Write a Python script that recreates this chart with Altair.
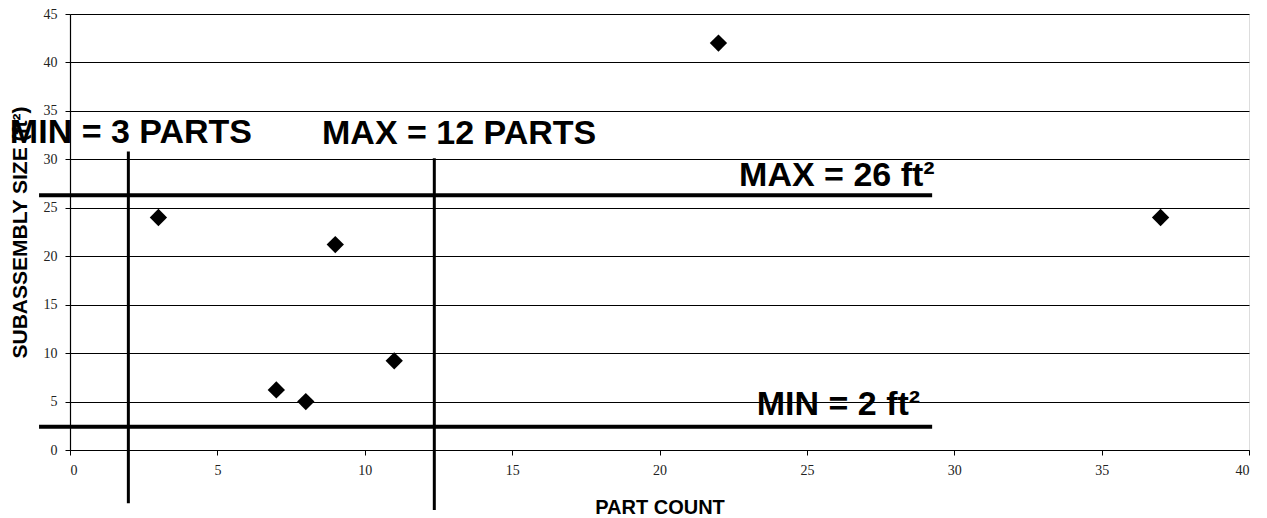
import altair as alt
import pandas as pd

# scatter data
part_count = [3, 7, 8, 9, 11, 22, 37]
subassembly_size = [24, 6.2, 5, 21.2, 9.2, 42, 24]

# threshold lines (as drawn)
v_x = [1.98, 12.36]
v_y1 = [-5.5, -6.2]
v_y2 = [30.8, 30.1]
h_y = [26.3, 2.4]
h_x1 = [-1.05, -1.05]
h_x2 = [29.25, 29.25]

# annotation labels
label_text = ["MIN = 3 PARTS", "MAX = 12 PARTS", "MAX = 26 ft²", "MIN = 2 ft²"]
label_x = [-2.04, 8.55, 22.7, 23.3]
label_y = [31.7, 31.6, 27.25, 3.6]

pts = pd.DataFrame({"x": part_count, "y": subassembly_size})
vlines = pd.DataFrame({"x": v_x, "y": v_y1, "y2": v_y2})
hlines = pd.DataFrame({"y": h_y, "x": h_x1, "x2": h_x2})
labels = pd.DataFrame({"t": label_text, "x": label_x, "y": label_y})

xs = alt.Scale(domain=[0, 40], nice=False, zero=False)
ys = alt.Scale(domain=[0, 45], nice=False, zero=False)

xax = alt.Axis(values=list(range(0, 41, 5)), title="PART COUNT", grid=False,
               titleFontSize=20, titleFontWeight="bold", titleFont="Liberation Sans",
               titleColor="black", titlePadding=20,
               labelFont="Liberation Serif", labelFontSize=14, labelColor="#222",
               labelPadding=8, tickColor="black", tickSize=5, domainColor="black",
               domainWidth=1.2)
yax = alt.Axis(values=list(range(0, 46, 5)), title="SUBASSEMBLY SIZE (ft²)", grid=True,
               gridColor="black", gridWidth=1.2, gridOpacity=1,
               titleFontSize=21, titleFontWeight="bold", titleFont="Liberation Sans",
               titleColor="black", titlePadding=13,
               labelFont="Liberation Serif", labelFontSize=14, labelColor="#222",
               labelPadding=8, tickColor="black", tickSize=5, domainColor="black",
               domainWidth=1.2)

points = alt.Chart(pts).mark_point(shape="diamond", filled=True, color="black",
                                   size=300, opacity=1).encode(
    x=alt.X("x:Q", scale=xs, axis=xax),
    y=alt.Y("y:Q", scale=ys, axis=yax),
)

vr = alt.Chart(vlines).mark_rule(color="black", strokeWidth=3, clip=False).encode(
    x=alt.X("x:Q", scale=xs), y=alt.Y("y:Q", scale=ys), y2="y2:Q")

hr = alt.Chart(hlines).mark_rule(color="black", strokeWidth=4, clip=False).encode(
    y=alt.Y("y:Q", scale=ys), x=alt.X("x:Q", scale=xs), x2="x2:Q")

txt = alt.Chart(labels).mark_text(align="left", baseline="alphabetic",
                                  font="Liberation Sans", fontWeight="bold",
                                  fontSize=34, color="black", clip=False).encode(
    x=alt.X("x:Q", scale=xs), y=alt.Y("y:Q", scale=ys), text="t:N")

chart = alt.layer(points, vr, hr, txt).properties(
    width=1179, height=436,
    autosize=alt.AutoSizeParams(type="none"),
    padding={"left": 62, "top": 6, "right": 10, "bottom": 70},
).configure_view(stroke="black", strokeWidth=1.2).configure(background="white")

chart.save("out.html", embed_options={"renderer": "svg", "actions": False})
